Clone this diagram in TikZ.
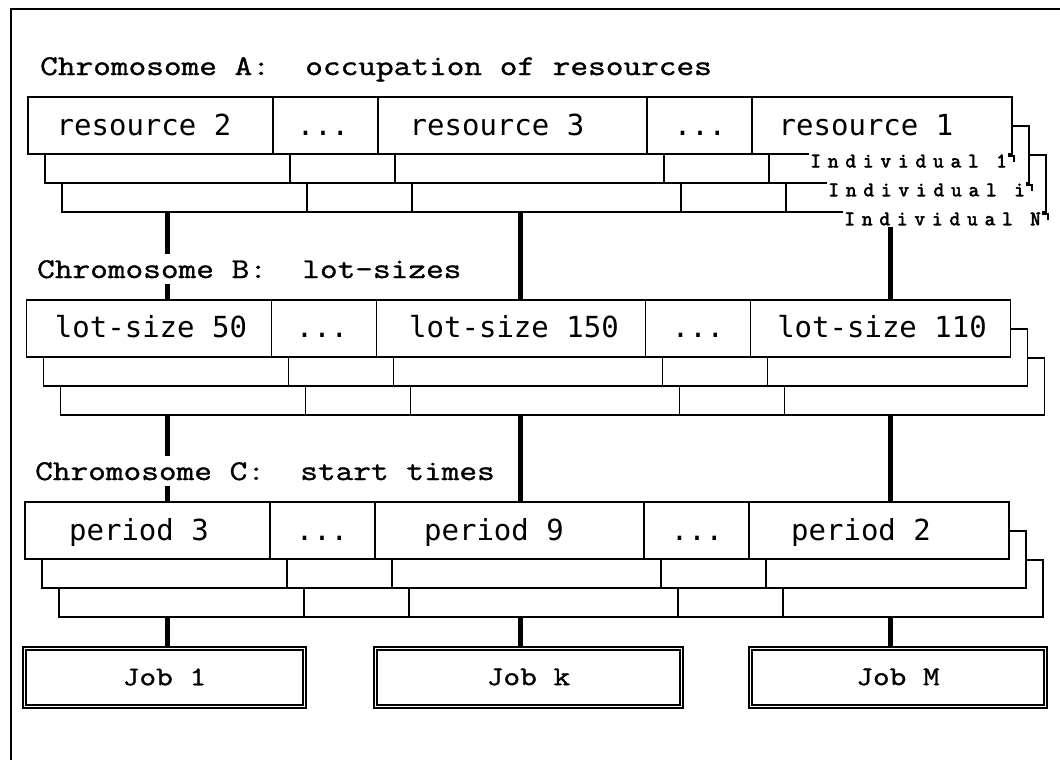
\documentclass[tikz,border=0pt]{standalone}
\usepackage{fontspec}
\newfontfamily\typefont[FakeStretch=1.2, FakeBold=1.2]{Latin Modern Mono}
\newfontfamily\cellfont{DejaVu Sans Mono}
\newfontfamily\indfont[LetterSpace=34, FakeBold=3]{Latin Modern Mono}
\usetikzlibrary{positioning}
\frenchspacing

\tikzset{
  edge/.style={draw=black, line width=1.5pt},
  layer/.style={edge, fill=white},
  link/.style={line width=5pt},
  title/.style={anchor=base west, fill=white, inner xsep=1pt, inner ysep=6pt,
    font=\typefont\fontsize{28.6}{30}\selectfont},
  cell/.style={anchor=base, inner sep=1pt, font=\cellfont\fontsize{29}{30}\selectfont},
  indiv/.style={anchor=east, fill=white, inner xsep=1pt, inner ysep=1.5pt,
    font=\indfont\fontsize{20.5}{21}\selectfont},
  job/.style={draw, line width=2pt, double, double distance=1pt, minimum height=58pt,
    font=\typefont\fontsize{27}{30}\selectfont}
}

\begin{document}
\begin{tikzpicture}[x=1pt,y=-1pt]
\useasboundingbox (0,0) rectangle (1060,760);

% Frame
\draw[line width=2pt] (11,760) -- (11,9) -- (1060,9);

% Jobs
\node[job, minimum width=280] (job1) at (164.5,677) {Job 1};
\node[job, minimum width=306] (jobk) at (528.5,677) {Job k};
\node[job, minimum width=295] (jobM) at (898,677) {Job M};

% Links
\foreach \x [count=\i] in {167,520,890} {
  \coordinate (Abot\i) at (\x,212);
  \coordinate (Btop\i) at (\x,300);
  \coordinate (Bbot\i) at (\x,415);
  \coordinate (Ctop\i) at (\x,502);
  \coordinate (Cbot\i) at (\x,617);
  \draw[link] (Abot\i) -- (Btop\i);
  \draw[link] (Bbot\i) -- (Ctop\i);
}
\draw[link] (Cbot1) -- (Cbot1 |- job1.north);
\draw[link] (Cbot2) -- (Cbot2 |- jobk.north);
\draw[link] (Cbot3) -- (Cbot3 |- jobM.north);

% Chromosomes (individual N at the back, individual 1 in front)
\foreach \y/\dx in {97/0, 300/-1.5, 502/-3} {
  \foreach \k in {2,1,0}
    \filldraw[layer, shift={(\dx+17*\k,\y+29*\k)}]
      (28,0) rectangle (1012,57)
      \foreach \d in {273,378,647,752} { (\d,0) -- (\d,57) };
}

% Titles
\node[title] (titA) at (39,75) {Chromosome A:\ \ occupation of resources};
\node[title] (titB) at (36,278) {Chromosome B:\ \ lot-sizes};
\node[title] (titC) at (34,480) {Chromosome C:\ \ start times};

% Genes
\node[cell] (res2) at (144,135) {resource 2};
\node[cell] (dotA1) at (323,135) {...};
\node[cell] (res3) at (497,135) {resource 3};
\node[cell] (dotA2) at (700,135) {...};
\node[cell] (res1) at (866,135) {resource 1};

\node[cell] (lot50) at (151,337) {lot-size 50};
\node[cell] (dotB1) at (322,337) {...};
\node[cell] (lot150) at (514,337) {lot-size 150};
\node[cell] (dotB2) at (698,337) {...};
\node[cell] (lot110) at (882,337) {lot-size 110};

\node[cell] (per3) at (139,540) {period 3};
\node[cell] (dotC1) at (322,540) {...};
\node[cell] (per9) at (494,540) {period 9};
\node[cell] (dotC2) at (697,540) {...};
\node[cell] (per2) at (861,540) {period 2};

% Individuals
\node[indiv] (ind1) at (1008,161) {Individual 1};
\node[indiv] (indi) at (1026,190) {Individual i};
\node[indiv] (indN) at (1042,219) {Individual N};
\foreach \n in {ind1,indi,indN}
  \draw[edge] (\n.north east) ++(0,3) -- ++(6,0) -- ++(0,6);

\end{tikzpicture}
\end{document}
